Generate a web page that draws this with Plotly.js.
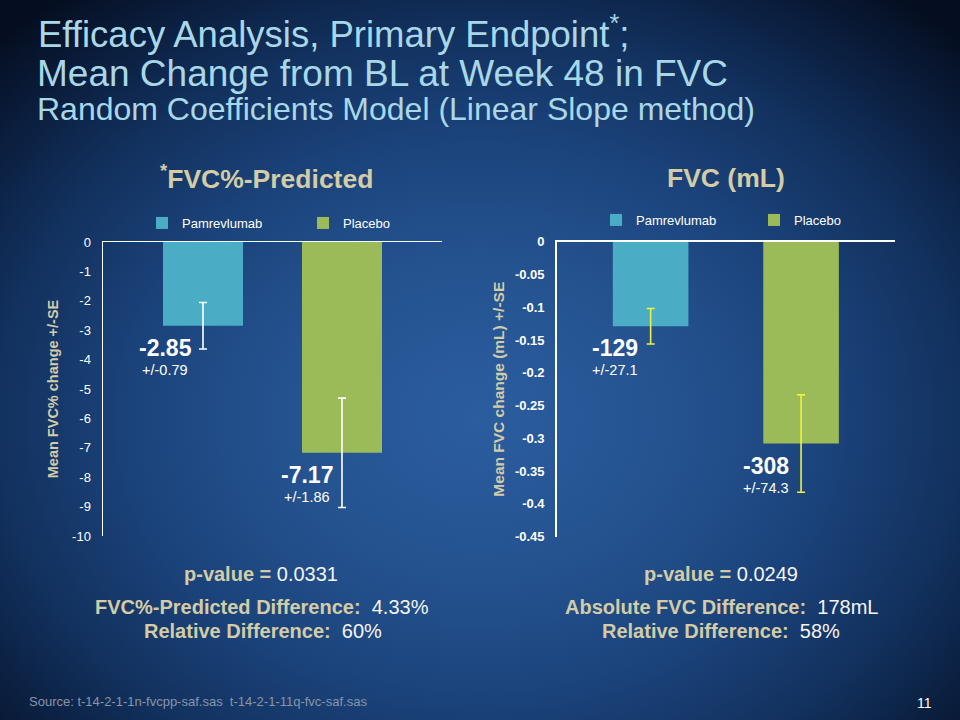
<!DOCTYPE html>
<html>
<head>
<meta charset="utf-8">
<script src="https://cdn.plot.ly/plotly-3.0.1.min.js"></script>
<style>
html, body { margin:0; padding:0; width:960px; height:720px; overflow:hidden; }
body {
  background:
    radial-gradient(ellipse 70% 75% at 50% 58%, #2b5d9f 0%, #24528f 30%, #1b437b 52%, #12315e 72%, #0a1d3c 88%, #050e20 100%);
}
#chart { width:960px; height:720px; }
</style>
</head>
<body>
<div id="chart"></div>
<script>
// ---- data ----
const seriesNames = ["Pamrevlumab", "Placebo"];
const category = ["Week 48"];
const fvcPctMean = [-2.85, -7.17];
const fvcPctSE = [0.79, 1.86];
const fvcMlMean = [-129, -308];
const fvcMlSE = [27.1, 74.3];
const leftTickVals = [0, -1, -2, -3, -4, -5, -6, -7, -8, -9, -10];
const leftTickText = ["0", "-1", "-2", "-3", "-4", "-5", "-6", "-7", "-8", "-9", "-10"];
const rightTickVals = [0, -0.05, -0.1, -0.15, -0.2, -0.25, -0.3, -0.35, -0.4, -0.45];
const rightTickText = ["0", "-0.05", "-0.1", "-0.15", "-0.2", "-0.25", "-0.3", "-0.35", "-0.4", "-0.45"];
const pValues = ["0.0331", "0.0249"];
const leftDiff = ["4.33%", "60%"];
const rightDiff = ["178mL", "58%"];

// ---- styles ----
const barColors = ["#4bacc6", "#9bbb59"];
const tan = "#d3cca7";
const white = "#f4f4f4";
const titleColor = "#a8d8e8";
const FONT = "Liberation Sans, Arial, sans-serif";

const fvcL = fvcMlMean.map(v => v / 1000);
const fvcLSE = fvcMlSE.map(v => v / 1000);

const traces = [];
seriesNames.forEach((name, i) => {
  traces.push({
    type: "bar", name: name, x: category, y: [fvcPctMean[i]],
    xaxis: "x", yaxis: "y", legend: "legend",
    marker: { color: barColors[i] }, width: 0.236,
    error_y: { type: "data", array: [fvcPctSE[i]], visible: true, color: "#ffffff", thickness: 1.6, width: 4 },
    hoverinfo: "skip"
  });
});
seriesNames.forEach((name, i) => {
  traces.push({
    type: "bar", name: name, x: category, y: [fvcL[i]],
    xaxis: "x2", yaxis: "y2", legend: "legend2",
    marker: { color: barColors[i] }, width: 0.206,
    error_y: { type: "data", array: [fvcLSE[i]], visible: true, color: "#eef23c", thickness: 1.6, width: 4 },
    hoverinfo: "skip"
  });
});

const annotations = [];
// title lines
annotations.push({ xref: "paper", yref: "paper", x: 36/960, y: 1 - 32/720, xanchor: "left", yanchor: "middle",
  text: "Efficacy Analysis, Primary Endpoint<sup>*</sup>;", showarrow: false, font: { family: FONT, size: 36.5, color: titleColor } });
annotations.push({ xref: "paper", yref: "paper", x: 35/960, y: 1 - 74/720, xanchor: "left", yanchor: "middle",
  text: "Mean Change from BL at Week 48 in FVC", showarrow: false, font: { family: FONT, size: 37, color: titleColor } });
annotations.push({ xref: "paper", yref: "paper", x: 35/960, y: 1 - 109/720, xanchor: "left", yanchor: "middle",
  text: "Random Coefficients Model (Linear Slope method)", showarrow: false, font: { family: FONT, size: 32, color: titleColor } });

// panel titles
annotations.push({ xref: "paper", yref: "paper", x: 266/960, y: 1 - 177/720, xanchor: "center", yanchor: "middle",
  text: "<b><sup>*</sup>FVC%-Predicted</b>", showarrow: false, font: { family: FONT, size: 26.5, color: tan } });
annotations.push({ xref: "paper", yref: "paper", x: 726/960, y: 1 - 178/720, xanchor: "center", yanchor: "middle",
  text: "<b>FVC (mL)</b>", showarrow: false, font: { family: FONT, size: 26.5, color: tan } });

// value labels
const leftLabelX = [0.183, 0.602];
const rightLabelX = [0.172, 0.618];
seriesNames.forEach((name, i) => {
  annotations.push({ xref: "x domain", yref: "y", x: leftLabelX[i], y: fvcPctMean[i], yshift: -22,
    xanchor: "center", yanchor: "middle", showarrow: false,
    text: "<b>" + fvcPctMean[i].toFixed(2) + "</b>", font: { family: FONT, size: 23, color: "#ffffff" } });
  annotations.push({ xref: "x domain", yref: "y", x: leftLabelX[i], y: fvcPctMean[i], yshift: -44,
    xanchor: "center", yanchor: "middle", showarrow: false,
    text: "+/-" + fvcPctSE[i].toFixed(2), font: { family: FONT, size: 14.5, color: "#ffffff" } });
  annotations.push({ xref: "x2 domain", yref: "y2", x: rightLabelX[i], y: fvcL[i], yshift: -22,
    xanchor: "center", yanchor: "middle", showarrow: false,
    text: "<b>" + fvcMlMean[i] + "</b>", font: { family: FONT, size: 23, color: "#ffffff" } });
  annotations.push({ xref: "x2 domain", yref: "y2", x: rightLabelX[i], y: fvcL[i], yshift: -44,
    xanchor: "center", yanchor: "middle", showarrow: false,
    text: "+/-" + fvcMlSE[i].toFixed(1), font: { family: FONT, size: 14.5, color: "#ffffff" } });
});

// bottom statistics
function stat(label, value) {
  return "<b>" + label + "</b><span style='color:" + white + "'>" + value + "</span>";
}
const bottom = [
  { x: 261, y: 574, t: stat("p-value = ", pValues[0]) },
  { x: 262, y: 607, t: stat("FVC%-Predicted Difference:  ", leftDiff[0]) },
  { x: 263, y: 631, t: stat("Relative Difference:  ", leftDiff[1]) },
  { x: 721, y: 574, t: stat("p-value = ", pValues[1]) },
  { x: 721, y: 607, t: stat("Absolute FVC Difference:  ", rightDiff[0]) },
  { x: 721, y: 631, t: stat("Relative Difference:  ", rightDiff[1]) }
];
bottom.forEach(b => annotations.push({ xref: "paper", yref: "paper", x: b.x/960, y: 1 - b.y/720,
  xanchor: "center", yanchor: "middle", showarrow: false, text: b.t,
  font: { family: FONT, size: 20, color: tan } }));

annotations.push({ xref: "paper", yref: "paper", x: 27/960, y: 1 - 701/720, xanchor: "left", yanchor: "middle",
  showarrow: false, text: "Source: t-14-2-1-1n-fvcpp-saf.sas  t-14-2-1-11q-fvc-saf.sas",
  font: { family: FONT, size: 13, color: "#8796a8" } });
annotations.push({ xref: "paper", yref: "paper", x: 924/960, y: 1 - 703/720, xanchor: "center", yanchor: "middle",
  showarrow: false, text: "11", font: { family: FONT, size: 14, color: "#ffffff" } });

const layout = {
  width: 960, height: 720,
  margin: { l: 0, r: 0, t: 0, b: 0, autoexpand: false },
  paper_bgcolor: "rgba(0,0,0,0)", plot_bgcolor: "rgba(0,0,0,0)",
  barmode: "group", bargap: 0.18, bargroupgap: 0,
  font: { family: FONT, color: "#ffffff" },
  showlegend: true,
  xaxis: { domain: [103/960, 442/960], anchor: "y", side: "top", range: [-0.5, 0.5], automargin: false,
    showticklabels: false, ticks: "", showgrid: false, showline: true, linecolor: "#ffffff", linewidth: 1.5, fixedrange: true },
  yaxis: { domain: [184/720, 478/720], anchor: "x", range: [-10, 0], tickvals: leftTickVals, ticktext: leftTickText,
    automargin: false,
    showgrid: false, zeroline: false, showline: true, linecolor: "#ffffff", linewidth: 1.5, ticks: "",
    ticklabelstandoff: 8, tickfont: { family: FONT, size: 13, color: "#ffffff" },
    title: { text: "<b>Mean FVC% change +/-SE</b>", standoff: 10, font: { family: FONT, size: 14.5, color: tan } } },
  xaxis2: { domain: [556.7/960, 895/960], anchor: "y2", side: "top", range: [-0.461, 0.461], automargin: false,
    showticklabels: false, ticks: "", showgrid: false, showline: true, linecolor: "#ffffff", linewidth: 1.5, fixedrange: true },
  yaxis2: { domain: [183.3/720, 478.3/720], anchor: "x2", range: [-0.45, 0], tickvals: rightTickVals, ticktext: rightTickText,
    automargin: false,
    showgrid: false, zeroline: false, showline: true, linecolor: "#ffffff", linewidth: 1.5, ticks: "",
    ticklabelstandoff: 8, tickfont: { family: FONT, size: 13, color: "#ffffff", weight: "bold" },
    title: { text: "<b>Mean FVC change (mL) +/-SE</b>", standoff: 6, font: { family: FONT, size: 15.5, color: tan } } },
  legend: { orientation: "h", x: 142/960, y: 1 - 223/720, xanchor: "left", yanchor: "middle",
    bgcolor: "rgba(0,0,0,0)", font: { family: FONT, size: 13, color: "#ffffff" }, entrywidth: 116, itemclick: false, itemdoubleclick: false },
  legend2: { orientation: "h", x: 596/960, y: 1 - 220/720, xanchor: "left", yanchor: "middle",
    bgcolor: "rgba(0,0,0,0)", font: { family: FONT, size: 13, color: "#ffffff" }, entrywidth: 113, itemclick: false, itemdoubleclick: false },
  annotations: annotations
};

Plotly.newPlot("chart", traces, layout, { displayModeBar: false, staticPlot: true });
</script>
</body>
</html>
